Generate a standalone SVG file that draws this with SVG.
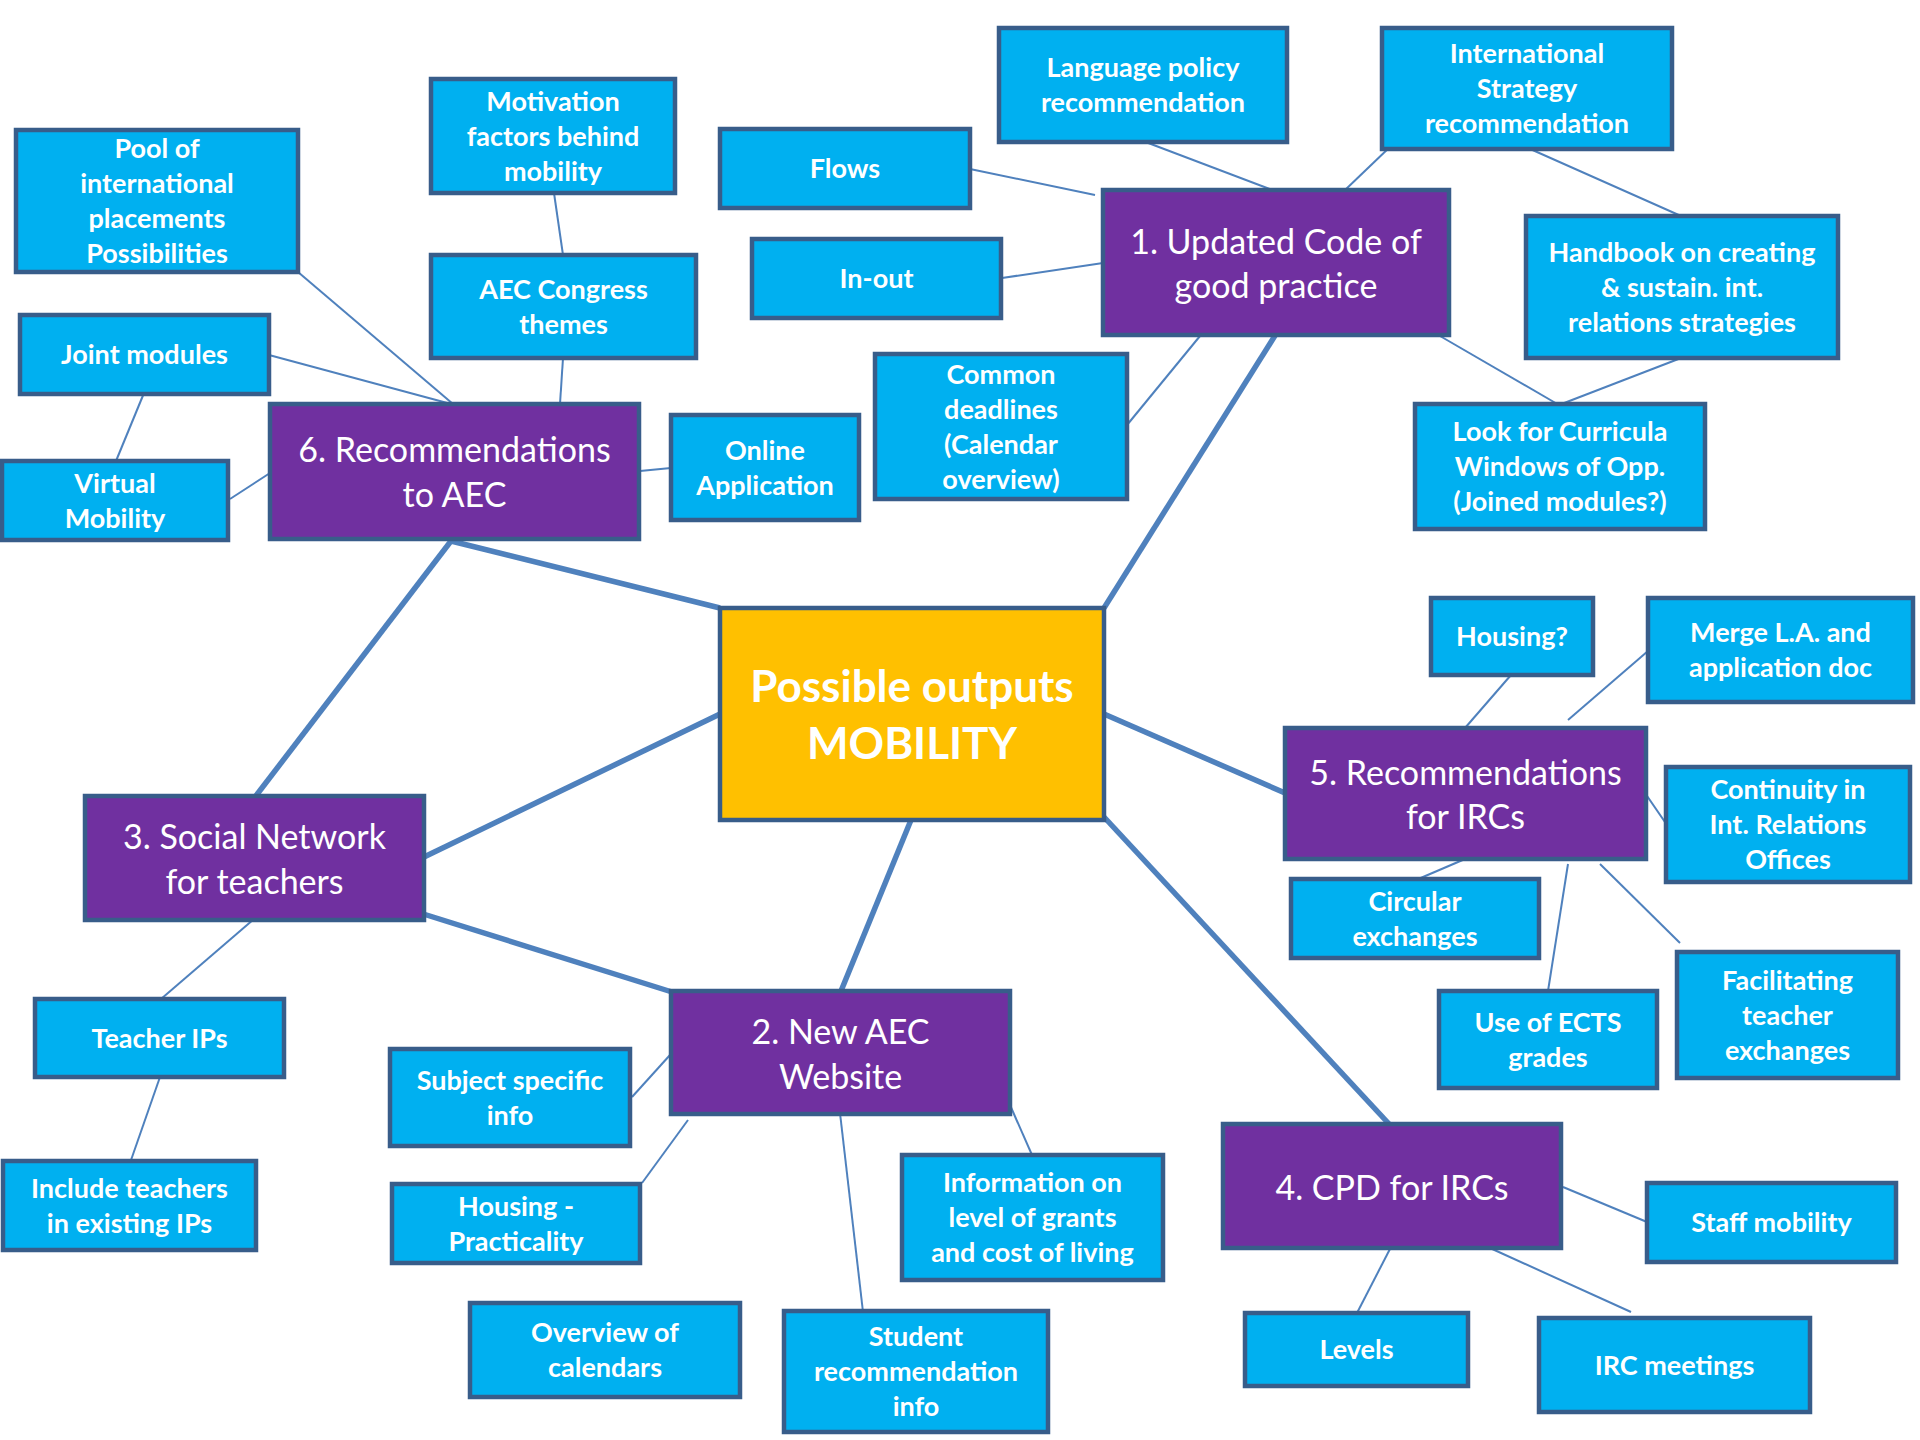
<svg xmlns="http://www.w3.org/2000/svg" width="1920" height="1440" viewBox="0 0 1920 1440">
<style>
.bg{fill:#FFFFFF}
.leaf rect{fill:#00B0F0;stroke:#385D8A;stroke-width:4.5}
.topic rect{fill:#7030A0;stroke:#385D8A;stroke-width:4.5}
.hub rect{fill:#FFC000;stroke:#385D8A;stroke-width:4.5}
.leaf text{font-family:Lato,"Liberation Sans",sans-serif;font-weight:700;font-size:27px;fill:#FFFFFF;text-anchor:middle}
.topic text{font-family:Lato,"Liberation Sans",sans-serif;font-weight:400;font-size:34px;fill:#FFFFFF;text-anchor:middle}
.hub text{font-family:Lato,"Liberation Sans",sans-serif;font-weight:700;font-size:44px;fill:#FFFFFF;text-anchor:middle}
.thin{stroke:#4F81BD;stroke-width:2;fill:none}
.thick{stroke:#4F81BD;stroke-width:5.5;fill:none}
</style>
<rect class="bg" x="0" y="0" width="1920" height="1440"/>
<g id="connectors">
<line class="thick" x1="451" y1="541" x2="720" y2="608"/>
<line class="thick" x1="451" y1="541" x2="255" y2="797"/>
<line class="thick" x1="424" y1="857" x2="720" y2="714"/>
<line class="thick" x1="417" y1="912" x2="672" y2="992"/>
<line class="thick" x1="911" y1="820" x2="841" y2="991"/>
<line class="thick" x1="1104" y1="714" x2="1285" y2="793"/>
<line class="thick" x1="1104" y1="817" x2="1390" y2="1125"/>
<line class="thick" x1="1104" y1="608" x2="1276" y2="334"/>
<line class="thin" x1="554" y1="193" x2="563" y2="255"/>
<line class="thin" x1="563" y1="358" x2="560" y2="404"/>
<line class="thin" x1="298" y1="272" x2="453" y2="404"/>
<line class="thin" x1="269" y1="355" x2="451" y2="404"/>
<line class="thin" x1="144" y1="393" x2="116" y2="461"/>
<line class="thin" x1="230" y1="499" x2="270" y2="473"/>
<line class="thin" x1="640" y1="471" x2="671" y2="468"/>
<line class="thin" x1="970" y1="169" x2="1095" y2="195"/>
<line class="thin" x1="1143" y1="141" x2="1275" y2="191"/>
<line class="thin" x1="1002" y1="278" x2="1103" y2="263"/>
<line class="thin" x1="1127" y1="425" x2="1200" y2="336"/>
<line class="thin" x1="1392" y1="145" x2="1344" y2="191"/>
<line class="thin" x1="1528" y1="148" x2="1681" y2="216"/>
<line class="thin" x1="1440" y1="336" x2="1559" y2="405"/>
<line class="thin" x1="1681" y1="358" x2="1559" y2="405"/>
<line class="thin" x1="1511" y1="675" x2="1465" y2="728"/>
<line class="thin" x1="1648" y1="651" x2="1568" y2="720"/>
<line class="thin" x1="1645" y1="793" x2="1667" y2="825"/>
<line class="thin" x1="1465" y1="859" x2="1416" y2="880"/>
<line class="thin" x1="1568" y1="864" x2="1548" y2="991"/>
<line class="thin" x1="1600" y1="864" x2="1680" y2="943"/>
<line class="thin" x1="1563" y1="1187" x2="1647" y2="1222"/>
<line class="thin" x1="1391" y1="1247" x2="1357" y2="1313"/>
<line class="thin" x1="1490" y1="1248" x2="1631" y2="1312"/>
<line class="thin" x1="160" y1="1077" x2="130" y2="1163"/>
<line class="thin" x1="254" y1="919" x2="161" y2="999"/>
<line class="thin" x1="670" y1="1055" x2="632" y2="1097"/>
<line class="thin" x1="688" y1="1120" x2="642" y2="1183"/>
<line class="thin" x1="840" y1="1113" x2="863" y2="1312"/>
<line class="thin" x1="1010" y1="1105" x2="1032" y2="1155"/>
</g>
<g id="hub" class="hub"><rect x="720" y="608" width="384" height="212"/><text><tspan x="912" y="702">Possible outputs</tspan><tspan x="912" y="759">MOBILITY</tspan></text></g>
<g id="t1" class="topic"><rect x="1103" y="190" width="346" height="145"/><text><tspan x="1276" y="254">1. Updated Code of</tspan><tspan x="1276" y="298">good practice</tspan></text></g>
<g id="t6" class="topic"><rect x="270" y="404" width="369" height="135"/><text><tspan x="454.5" y="462">6. Recommendations</tspan><tspan x="454.5" y="507">to AEC</tspan></text></g>
<g id="t3" class="topic"><rect x="85" y="796" width="339" height="124"/><text><tspan x="254.5" y="849">3. Social Network</tspan><tspan x="254.5" y="894">for teachers</tspan></text></g>
<g id="t2" class="topic"><rect x="671" y="991" width="339" height="123"/><text><tspan x="840.5" y="1044">2. New AEC</tspan><tspan x="840.5" y="1089">Website</tspan></text></g>
<g id="t4" class="topic"><rect x="1223" y="1124" width="338" height="124"/><text><tspan x="1392" y="1200">4. CPD for IRCs</tspan></text></g>
<g id="t5" class="topic"><rect x="1285" y="728" width="361" height="131"/><text><tspan x="1465.5" y="785">5. Recommendations</tspan><tspan x="1465.5" y="829">for IRCs</tspan></text></g>
<g id="pool" class="leaf"><rect x="16" y="130" width="282" height="142"/><text><tspan x="157" y="158">Pool of</tspan><tspan x="157" y="193">international</tspan><tspan x="157" y="228">placements</tspan><tspan x="157" y="263">Possibilities</tspan></text></g>
<g id="motivation" class="leaf"><rect x="431" y="79" width="244" height="114"/><text><tspan x="553" y="110.5">Motivation</tspan><tspan x="553" y="145.5">factors behind</tspan><tspan x="553" y="180.5">mobility</tspan></text></g>
<g id="congress" class="leaf"><rect x="431" y="255" width="265" height="103"/><text><tspan x="563.5" y="298.5">AEC Congress</tspan><tspan x="563.5" y="333.5">themes</tspan></text></g>
<g id="joint" class="leaf"><rect x="20" y="315" width="249" height="79"/><text><tspan x="144.5" y="364">Joint modules</tspan></text></g>
<g id="virtual" class="leaf"><rect x="2" y="461" width="226" height="79"/><text><tspan x="115" y="492.5">Virtual</tspan><tspan x="115" y="527.5">Mobility</tspan></text></g>
<g id="online" class="leaf"><rect x="671" y="415" width="188" height="105"/><text><tspan x="765" y="459.5">Online</tspan><tspan x="765" y="494.5">Application</tspan></text></g>
<g id="deadlines" class="leaf"><rect x="875" y="354" width="252" height="145"/><text><tspan x="1001" y="383.5">Common</tspan><tspan x="1001" y="418.5">deadlines</tspan><tspan x="1001" y="453.5">(Calendar</tspan><tspan x="1001" y="488.5">overview)</tspan></text></g>
<g id="flows" class="leaf"><rect x="720" y="129" width="250" height="79"/><text><tspan x="845" y="178">Flows</tspan></text></g>
<g id="inout" class="leaf"><rect x="752" y="239" width="249" height="79"/><text><tspan x="876.5" y="288">In-out</tspan></text></g>
<g id="language" class="leaf"><rect x="999" y="28" width="288" height="114"/><text><tspan x="1143" y="77">Language policy</tspan><tspan x="1143" y="112">recommendation</tspan></text></g>
<g id="strategy" class="leaf"><rect x="1382" y="28" width="290" height="121"/><text><tspan x="1527" y="63">International</tspan><tspan x="1527" y="98">Strategy</tspan><tspan x="1527" y="133">recommendation</tspan></text></g>
<g id="handbook" class="leaf"><rect x="1526" y="216" width="312" height="142"/><text><tspan x="1682" y="261.5">Handbook on creating</tspan><tspan x="1682" y="296.5">&amp; sustain. int.</tspan><tspan x="1682" y="331.5">relations strategies</tspan></text></g>
<g id="curricula" class="leaf"><rect x="1415" y="404" width="290" height="125"/><text><tspan x="1560" y="441">Look for Curricula</tspan><tspan x="1560" y="476">Windows of Opp.</tspan><tspan x="1560" y="511">(Joined modules?)</tspan></text></g>
<g id="housingq" class="leaf"><rect x="1431" y="598" width="162" height="77"/><text><tspan x="1512" y="646">Housing?</tspan></text></g>
<g id="merge" class="leaf"><rect x="1648" y="598" width="265" height="104"/><text><tspan x="1780.5" y="642">Merge L.A. and</tspan><tspan x="1780.5" y="677">application doc</tspan></text></g>
<g id="continuity" class="leaf"><rect x="1666" y="767" width="244" height="115"/><text><tspan x="1788" y="799">Continuity in</tspan><tspan x="1788" y="834">Int. Relations</tspan><tspan x="1788" y="869">Offices</tspan></text></g>
<g id="circular" class="leaf"><rect x="1291" y="879" width="248" height="79"/><text><tspan x="1415" y="910.5">Circular</tspan><tspan x="1415" y="945.5">exchanges</tspan></text></g>
<g id="ects" class="leaf"><rect x="1439" y="991" width="218" height="97"/><text><tspan x="1548" y="1031.5">Use of ECTS</tspan><tspan x="1548" y="1066.5">grades</tspan></text></g>
<g id="facilitating" class="leaf"><rect x="1677" y="952" width="221" height="126"/><text><tspan x="1787.5" y="989.5">Facilitating</tspan><tspan x="1787.5" y="1024.5">teacher</tspan><tspan x="1787.5" y="1059.5">exchanges</tspan></text></g>
<g id="staff" class="leaf"><rect x="1647" y="1183" width="249" height="79"/><text><tspan x="1771.5" y="1232">Staff mobility</tspan></text></g>
<g id="levels" class="leaf"><rect x="1245" y="1313" width="223" height="73"/><text><tspan x="1356.5" y="1359">Levels</tspan></text></g>
<g id="irc" class="leaf"><rect x="1539" y="1318" width="271" height="94"/><text><tspan x="1674.5" y="1374.5">IRC meetings</tspan></text></g>
<g id="information" class="leaf"><rect x="902" y="1155" width="261" height="125"/><text><tspan x="1032.5" y="1192">Information on</tspan><tspan x="1032.5" y="1227">level of grants</tspan><tspan x="1032.5" y="1262">and cost of living</tspan></text></g>
<g id="student" class="leaf"><rect x="784" y="1311" width="264" height="121"/><text><tspan x="916" y="1346">Student</tspan><tspan x="916" y="1381">recommendation</tspan><tspan x="916" y="1416">info</tspan></text></g>
<g id="overview" class="leaf"><rect x="470" y="1303" width="270" height="94"/><text><tspan x="605" y="1342">Overview of</tspan><tspan x="605" y="1377">calendars</tspan></text></g>
<g id="housingp" class="leaf"><rect x="392" y="1184" width="248" height="79"/><text><tspan x="516" y="1215.5">Housing -</tspan><tspan x="516" y="1250.5">Practicality</tspan></text></g>
<g id="subject" class="leaf"><rect x="390" y="1049" width="240" height="97"/><text><tspan x="510" y="1089.5">Subject specific</tspan><tspan x="510" y="1124.5">info</tspan></text></g>
<g id="teacherips" class="leaf"><rect x="35" y="999" width="249" height="78"/><text><tspan x="159.5" y="1047.5">Teacher IPs</tspan></text></g>
<g id="include" class="leaf"><rect x="3" y="1161" width="253" height="89"/><text><tspan x="129.5" y="1197.5">Include teachers</tspan><tspan x="129.5" y="1232.5">in existing IPs</tspan></text></g>
</svg>
